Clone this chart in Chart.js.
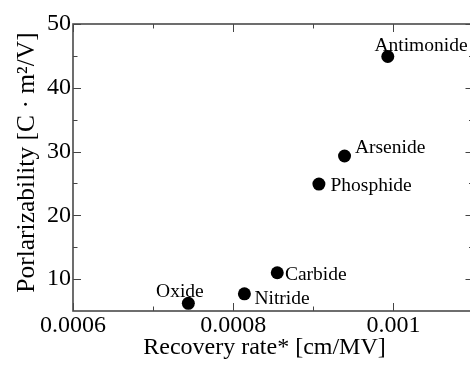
<!DOCTYPE html>
<html>
<head>
<meta charset="utf-8">
<script src="https://cdn.jsdelivr.net/npm/chart.js@4/dist/chart.umd.min.js"></script>
<style>
html,body{margin:0;padding:0;background:#fff;overflow:hidden;width:470px;height:367px;}
canvas{display:block;}
#fp{font-family:"Liberation Serif";position:absolute;left:-1000px;top:0;font-size:24px;}
</style>
</head>
<body>
<span id="fp">Recovery 0.0006</span>
<canvas id="c" width="480" height="367" style="width:480px;height:367px"></canvas>
<script>
// ---- data ----
const compounds = ['Oxide', 'Nitride', 'Carbide', 'Phosphide', 'Arsenide', 'Antimonide'];
const recoveryRate = [0.000744, 0.000814, 0.000855, 0.000907, 0.000939, 0.000993];
const polarizability = [6.2, 7.7, 11.0, 24.9, 29.3, 44.9];
const xTickValues = [0.0006, 0.0008, 0.001];
const xTickLabels = ['0.0006', '0.0008', '0.001'];
const xMinorValues = [0.0007, 0.0009, 0.0011];
const yTickValues = [10, 20, 30, 40, 50];
const yTickLabels = ['10', '20', '30', '40', '50'];
const yMinorValues = [15, 25, 35, 45];
const xTitle = 'Recovery rate* [cm/MV]';
const yTitle = 'Porlarizability [C \u00b7 m\u00b2/V]';

// ---- styling / layout (not data) ----
const FONT = '"Liberation Serif", serif';
const labelOffsets = [[-32.3, -6], [10, 10], [7.7, 7.3], [11.6, 7], [10.4, -2.7], [-13.4, -5.7]];

const points = recoveryRate.map((x, i) => ({x: x, y: polarizability[i]}));

const framePlugin = {
  id: 'frame',
  beforeDatasetsDraw(chart) {
    const ctx = chart.ctx;
    const meta = chart.getDatasetMeta(0);
    ctx.save();
    ctx.font = '19.5px ' + FONT;
    ctx.fillStyle = '#000';
    ctx.textAlign = 'left';
    ctx.textBaseline = 'alphabetic';
    meta.data.forEach((el, i) => {
      const o = labelOffsets[i];
      ctx.fillText(compounds[i], el.x + o[0], el.y + o[1]);
    });
    ctx.restore();
  },
  afterDraw(chart) {
    const ctx = chart.ctx;
    const a = chart.chartArea;
    const xs = chart.scales.x, ys = chart.scales.y;
    ctx.save();
    ctx.strokeStyle = '#444';
    ctx.lineWidth = 1;
    const tick = (x1, y1, x2, y2) => { ctx.beginPath(); ctx.moveTo(x1, y1); ctx.lineTo(x2, y2); ctx.stroke(); };
    xTickValues.forEach(v => { const p = Math.round(xs.getPixelForValue(v)) + 0.5; tick(p, a.bottom, p, a.bottom - 8); tick(p, a.top, p, a.top + 8); });
    xMinorValues.forEach(v => { const p = Math.round(xs.getPixelForValue(v)) + 0.5; tick(p, a.bottom, p, a.bottom - 4.5); tick(p, a.top, p, a.top + 4.5); });
    yTickValues.forEach(v => { const p = Math.round(ys.getPixelForValue(v)) + 0.5; tick(a.left, p, a.left + 8, p); tick(a.right, p, a.right - 8, p); });
    yMinorValues.forEach(v => { const p = Math.round(ys.getPixelForValue(v)) + 0.5; tick(a.left, p, a.left + 4.5, p); tick(a.right, p, a.right - 4.5, p); });
    ctx.strokeStyle = '#4a4a4a';
    ctx.lineWidth = 1.6;
    ctx.strokeRect(a.left, a.top, a.right - a.left, a.bottom - a.top);
    // axis titles
    ctx.fillStyle = '#000';
    ctx.font = '24px ' + FONT;
    ctx.textAlign = 'center';
    ctx.textBaseline = 'alphabetic';
    ctx.fillText(xTitle, 264.5, 354);
    ctx.font = '25.5px ' + FONT;
    ctx.translate(33.5, 162.5);
    ctx.rotate(-Math.PI / 2);
    ctx.fillText(yTitle, 0, 0);
    ctx.restore();
  }
};

function draw() {
  new Chart(document.getElementById('c'), {
    type: 'scatter',
    data: {
      datasets: [{
        data: points,
        backgroundColor: '#000',
        borderColor: '#000',
        borderWidth: 0,
        pointRadius: 6.5,
        pointHoverRadius: 6.5
      }]
    },
    options: {
      responsive: false,
      animation: false,
      devicePixelRatio: 1,
      layout: {padding: {top: 24, right: 2, left: 0, bottom: 0}},
      plugins: {legend: {display: false}, tooltip: {enabled: false}},
      scales: {
        x: {
          type: 'linear', min: 0.0006, max: 0.0011,
          grid: {display: false, drawTicks: false}, border: {display: false},
          afterBuildTicks: s => { s.ticks = xTickValues.map(v => ({value: v})); },
          afterFit: s => { s.height = 56; },
          ticks: {
            padding: 0, maxRotation: 0, autoSkip: false,
            color: '#000', font: {family: FONT, size: 24},
            callback: (v) => { const i = xTickValues.findIndex(t => Math.abs(t - v) < 1e-9); return i >= 0 ? xTickLabels[i] : ''; }
          }
        },
        y: {
          type: 'linear', min: 5, max: 50,
          grid: {display: false, drawTicks: false}, border: {display: false},
          afterBuildTicks: s => { s.ticks = yTickValues.map(v => ({value: v})); },
          afterFit: s => { s.width = 73; },
          ticks: {
            padding: 2, autoSkip: false,
            color: '#000', font: {family: FONT, size: 24},
            callback: (v) => { const i = yTickValues.indexOf(v); return i >= 0 ? yTickLabels[i] : ''; }
          }
        }
      }
    },
    plugins: [framePlugin]
  });
}

if (document.fonts && document.fonts.load) {
  Promise.all([
    document.fonts.load('24px "Liberation Serif"'),
    document.fonts.load('19.5px "Liberation Serif"')
  ]).then(draw, draw);
} else {
  draw();
}
</script>
</body>
</html>
